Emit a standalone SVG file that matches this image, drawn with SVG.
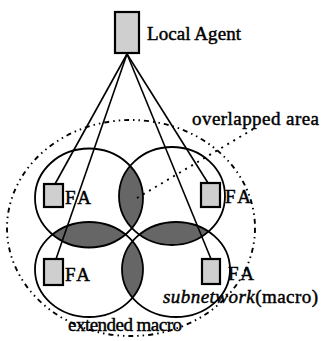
<svg xmlns="http://www.w3.org/2000/svg" width="322" height="341" viewBox="0 0 322 341">
<style>
.t{font-family:"Liberation Serif","Times New Roman",serif;font-size:19px;fill:#000;stroke:#000;stroke-width:0.45}
.cell{fill:none;stroke:#000;stroke-width:1.8}
.lens{fill:#666;stroke:none}
.box{fill:#cfcfcf;stroke:#000;stroke-width:2.2}
.link{stroke:#000;stroke-width:1.6;fill:none}
.dot{stroke:#000;stroke-width:1.9;fill:none;stroke-dasharray:5 4 1.5 4 1.5 4}
.ptr{stroke:#000;stroke-width:1.9;fill:none;stroke-dasharray:2 5}
</style>
<defs>
<clipPath id="cTR"><ellipse cx="172" cy="196" rx="53" ry="49"/></clipPath>
<clipPath id="cBL"><ellipse cx="89" cy="269.5" rx="54" ry="47.5"/></clipPath>
<clipPath id="cBR"><ellipse cx="176" cy="269.5" rx="54" ry="47.5"/></clipPath>
</defs>
<rect width="322" height="341" fill="#fff"/>
<g id="extended-macro">
<ellipse cx="131" cy="228" rx="124" ry="108" class="dot"/>
<text class="t" x="68" y="331" textLength="114">extended macro</text>
</g>
<g id="overlaps">
<ellipse class="lens" cx="89" cy="198" rx="54" ry="49.5" clip-path="url(#cTR)"/>
<ellipse class="lens" cx="89" cy="198" rx="54" ry="49.5" clip-path="url(#cBL)"/>
<ellipse class="lens" cx="172" cy="196" rx="53" ry="49" clip-path="url(#cBR)"/>
<ellipse class="lens" cx="89" cy="269.5" rx="54" ry="47.5" clip-path="url(#cBR)"/>
</g>
<g id="subnetworks">
<ellipse id="cell-tl" cx="89" cy="198" rx="54" ry="49.5" class="cell"/>
<ellipse id="cell-tr" cx="172" cy="196" rx="53" ry="49" class="cell"/>
<ellipse id="cell-bl" cx="89" cy="269.5" rx="54" ry="47.5" class="cell"/>
<ellipse id="cell-br" cx="176" cy="269.5" rx="54" ry="47.5" class="cell"/>
</g>
<g id="connectors">
<line class="link" x1="127" y1="54" x2="55" y2="184"/>
<line class="link" x1="127" y1="54" x2="56" y2="259"/>
<line class="link" x1="127" y1="54" x2="208" y2="183"/>
<line class="link" x1="127" y1="54" x2="211" y2="259"/>
<line class="ptr" x1="137" y1="198" x2="255" y2="128"/>
</g>
<g id="local-agent">
<rect class="box" x="115" y="12" width="24" height="41"/>
<text class="t" x="147" y="40" textLength="94">Local Agent</text>
</g>
<g id="fa-tl">
<rect class="box" x="44" y="184" width="19" height="23"/>
<text class="t" x="65" y="204" textLength="26">FA</text>
</g>
<g id="fa-tr">
<rect class="box" x="201" y="183" width="19" height="24"/>
<text class="t" x="225" y="203" textLength="26">FA</text>
</g>
<g id="fa-bl">
<rect class="box" x="44" y="259" width="19" height="26"/>
<text class="t" x="65" y="281" textLength="25">FA</text>
</g>
<g id="fa-br">
<rect class="box" x="202" y="259" width="18" height="25"/>
<text class="t" x="228" y="280" textLength="26">FA</text>
</g>
<g id="labels">
<text class="t" x="192" y="125" textLength="127">overlapped area</text>
<text class="t" x="163" y="303" textLength="155"><tspan font-style="italic">subnetwork</tspan>(macro)</text>
</g>
</svg>
